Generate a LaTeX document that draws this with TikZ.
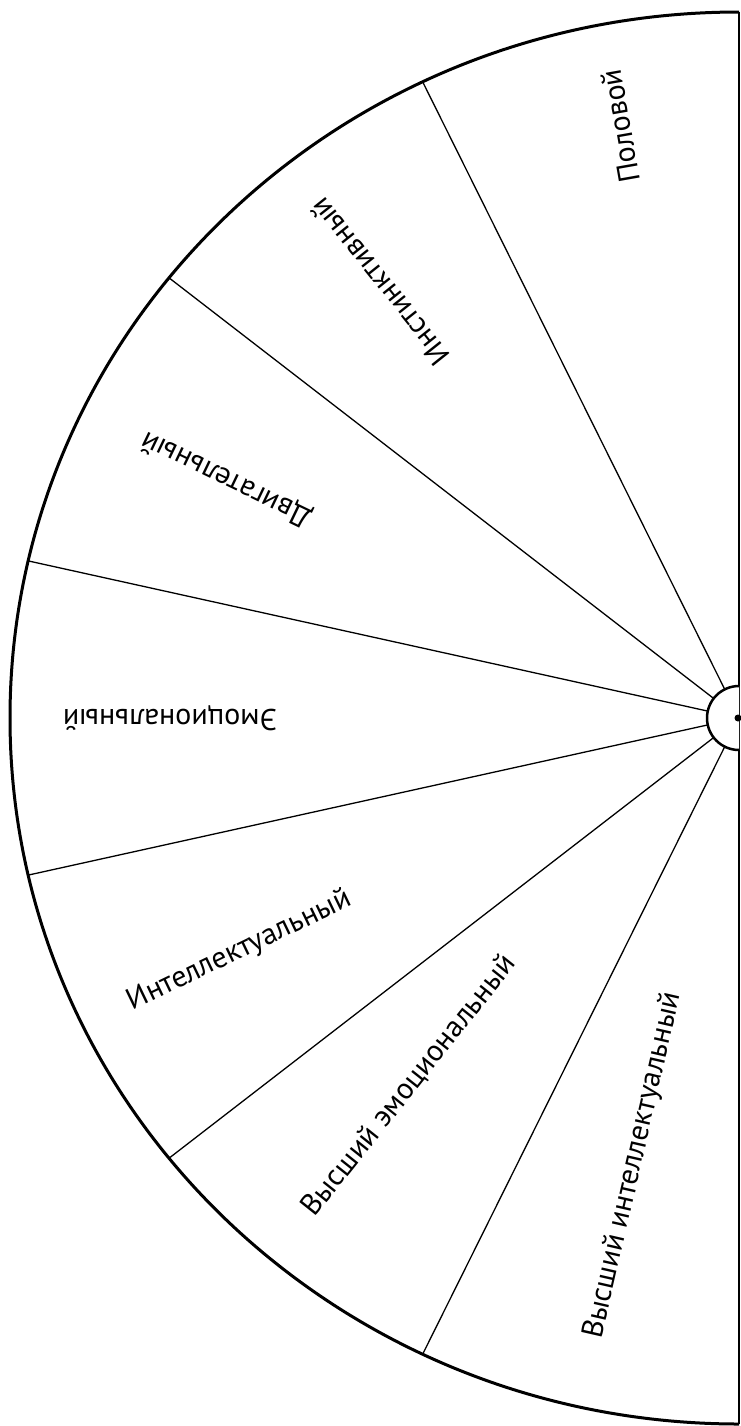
\documentclass[tikz,border=0pt]{standalone}
\usepackage{fontspec}
\setmainfont{PT Sans}
\usepackage{tikz}

\begin{document}
\begin{tikzpicture}[x=0.5pt, y=0.5pt, sector/.style={font=\fontsize{15}{17}\selectfont, inner sep=0pt}]
        \useasboundingbox (0,0) rectangle (740,-1426);
        \begin{scope}[shift={(739,-718)}]
        \foreach \k in {1,...,6}
            \draw[line width=0.65pt] (0,0) -- (90+\k*180/7:729 and 706);

        \draw[line width=1.5pt] (0,706) arc[start angle=90, end angle=270, x radius=729, y radius=706];
        \draw[line width=1pt] (0,706) -- (0,-706);

        \fill[white] (0,32) arc[start angle=90, end angle=270, radius=32] -- cycle;
        \draw[line width=1.25pt] (0,32) arc[start angle=90, end angle=270, radius=32];
        \fill (-1,0) circle [radius=3.5];

        \node[sector, rotate=100] (sex) at (101:623 and 603) {Половой};
        \node[sector, rotate=128.57] (instinct) at (128.57:576 and 558) {Инстинктивный};
        \node[sector, rotate=154.29] (motor) at (154.29:569 and 551) {Двигательный};
        \node[sector, rotate=180] (emotion) at (180:569 and 551) {Эмоциональный};
        \node[sector, rotate=25.71] (intellect) at (205.71:554 and 537) {Интеллектуальный};
        \node[sector, rotate=51.43] (hemotion) at (229:503 and 487) {Высший эмоциональный};
        \node[sector, rotate=77.14] (hintellect) at (257.14:474 and 459) {Высший интеллектуальный};
        \end{scope}
    \end{tikzpicture}
\end{document}
